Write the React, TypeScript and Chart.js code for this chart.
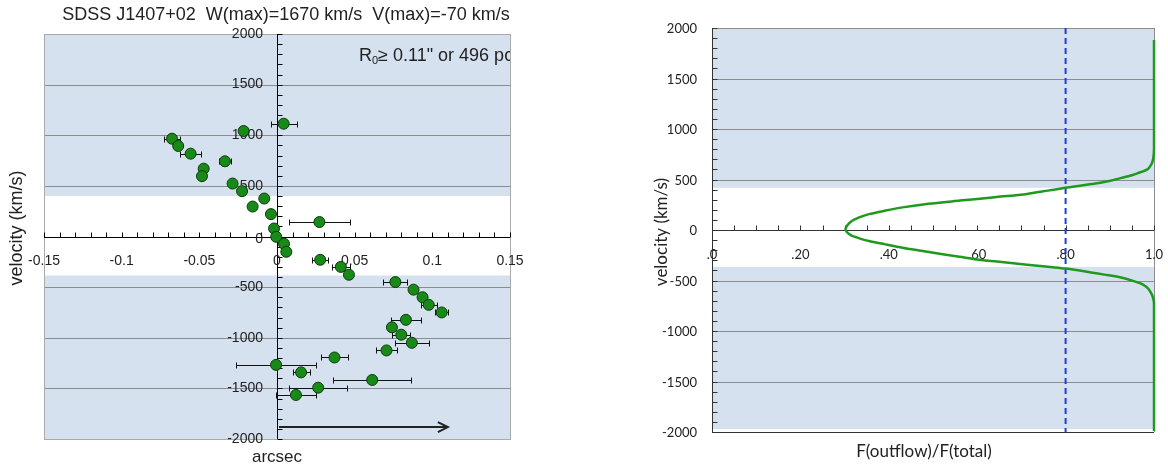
import React, { useEffect, useRef } from "react";
import { Chart, registerables } from "chart.js";

Chart.register(...registerables);

// ---------- Left panel: position–velocity of outflow channels ----------
const TITLE = "SDSS J1407+02  W(max)=1670 km/s  V(max)=-70 km/s";
const CHANNEL_VEL = [
  1114, 1042, 966, 894, 818, 743, 670, 596, 523, 448, 375, 296, 221, 143, 79, -3,
  -72, -151, -230, -300, -378, -450, -525, -600, -675, -750, -823, -897, -970,
  -1050, -1125, -1195, -1268, -1342, -1417, -1493, -1565,
];
const CHANNEL_OFFSET = [
  0.0043, -0.0215, -0.0676, -0.0636, -0.0556, -0.0335, -0.0472, -0.0483, -0.0286,
  -0.0225, -0.0082, -0.0157, -0.0039, 0.0273, -0.0019, -0.0005, 0.0045, 0.006,
  0.0278, 0.0411, 0.0463, 0.0762, 0.0879, 0.0937, 0.0977, 0.106, 0.083, 0.074,
  0.08, 0.0868, 0.0705, 0.037, -0.0006, 0.0155, 0.0613, 0.0265, 0.0122,
];
const CHANNEL_ERR = [
  0.0084, 0.002, 0.0052, 0.002, 0.0066, 0.0037, 0.002, 0.002, 0.002, 0.002, 0.002,
  0.002, 0.002, 0.0194, 0.002, 0.002, 0.002, 0.002, 0.0052, 0.006, 0.002, 0.0078,
  0.002, 0.002, 0.005, 0.0043, 0.0097, 0.002, 0.0057, 0.011, 0.007, 0.0086, 0.0255,
  0.0055, 0.025, 0.0187, 0.013,
];
const LEFT_X_TICKS = [-0.15, -0.1, -0.05, 0, 0.05, 0.1, 0.15];
const LEFT_X_LABELS = ["-0.15", "-0.1", "-0.05", "0", "0.05", "0.1", "0.15"];
const VEL_TICKS = [2000, 1500, 1000, 500, 0, -500, -1000, -1500, -2000];
const VEL_GRID = [1500, 1000, 500, -500, -1000, -1500];
const LEFT_BANDS = [
  [400, 2000],
  [-2000, -385],
];
const R0 = 0.11;
const ARROW_VEL = -1882;

// ---------- Right panel: cumulative flux fraction ----------
const FRAC_VEL = [
  1880, 1200, 800, 700, 650, 600, 550, 520, 491, 455, 418, 390, 357, 325, 291, 260,
  224, 190, 157, 125, 91, 60, 30, 5, -20, -40, -59, -85, -109, -140, -175, -210,
  -241, -265, -291, -315, -343, -365, -382, -410, -442, -475, -509, -540, -575,
  -620, -660, -720, -1200, -1990,
];
const FRAC = [
  1.0, 1.0, 1.0, 0.998, 0.994, 0.985, 0.955, 0.93, 0.904, 0.86, 0.8, 0.76, 0.713,
  0.64, 0.561, 0.49, 0.431, 0.39, 0.355, 0.333, 0.317, 0.309, 0.304, 0.302, 0.305,
  0.31, 0.317, 0.335, 0.355, 0.39, 0.431, 0.48, 0.522, 0.56, 0.598, 0.65, 0.713,
  0.76, 0.8, 0.845, 0.888, 0.93, 0.956, 0.975, 0.986, 0.993, 0.997, 1.0, 1.0, 1.0,
];
const THRESHOLD = 0.8;
const FRAC_TICKS = [0, 0.2, 0.4, 0.6, 0.8, 1.0];
const FRAC_LABELS = [".0", ".20", ".40", ".60", ".80", "1.0"];
const RIGHT_BANDS = [
  [418, 2000],
  [-1972, -365],
];

const BAND_FILL = "rgb(214,225,240)";
const GRID = "rgb(140,140,140)";
const ARIAL = '"Liberation Sans", Arial, sans-serif';
const LATO = "Lato, sans-serif";

const crisp = (v: number) => Math.round(v) + 0.5;

function hLine(ctx: CanvasRenderingContext2D, x1: number, x2: number, y: number) {
  ctx.beginPath();
  ctx.moveTo(x1, crisp(y));
  ctx.lineTo(x2, crisp(y));
  ctx.stroke();
}
function vLine(ctx: CanvasRenderingContext2D, x: number, y1: number, y2: number) {
  ctx.beginPath();
  ctx.moveTo(crisp(x), y1);
  ctx.lineTo(crisp(x), y2);
  ctx.stroke();
}

const leftDecor = {
  id: "leftDecor",
  beforeDatasetsDraw(chart: any) {
    const { ctx, chartArea: a } = chart;
    const xs = chart.scales.x;
    const ys = chart.scales.y;
    ctx.save();
    ctx.fillStyle = BAND_FILL;
    for (const [lo, hi] of LEFT_BANDS) {
      const t = ys.getPixelForValue(hi);
      const b = ys.getPixelForValue(lo);
      ctx.fillRect(a.left, t, a.right - a.left, b - t);
    }
    ctx.lineWidth = 1;
    ctx.strokeStyle = GRID;
    for (const v of VEL_GRID) hLine(ctx, a.left, a.right, ys.getPixelForValue(v));
    ctx.strokeStyle = "rgb(170,170,170)";
    ctx.strokeRect(crisp(a.left), crisp(a.top), Math.round(a.right - a.left), Math.round(a.bottom - a.top));

    const x0 = xs.getPixelForValue(0);
    const y0 = ys.getPixelForValue(0);
    ctx.strokeStyle = "#000";
    hLine(ctx, a.left, a.right, y0);
    vLine(ctx, x0, a.top, a.bottom);
    // minor ticks
    for (let i = -15; i <= 15; i++) {
      const px = crisp(xs.getPixelForValue(i / 100));
      ctx.beginPath();
      ctx.moveTo(px, crisp(y0));
      ctx.lineTo(px, crisp(y0) - 5);
      ctx.stroke();
    }
    for (let i = -20; i <= 20; i++) {
      const py = crisp(ys.getPixelForValue(i * 100));
      ctx.beginPath();
      ctx.moveTo(crisp(x0), py);
      ctx.lineTo(crisp(x0) + 5, py);
      ctx.stroke();
    }

    ctx.fillStyle = "#222";
    ctx.font = `14px ${ARIAL}`;
    ctx.textAlign = "right";
    ctx.textBaseline = "middle";
    for (const v of VEL_TICKS) ctx.fillText(String(v), x0 - 14, ys.getPixelForValue(v) + (v === 0 ? 3 : 0));
    ctx.textAlign = "center";
    LEFT_X_TICKS.forEach((v, i) => ctx.fillText(LEFT_X_LABELS[i], xs.getPixelForValue(v), y0 + 25));

    ctx.font = `18px ${ARIAL}`;
    ctx.fillText(TITLE, 286, 15);
    ctx.font = `17px ${ARIAL}`;
    ctx.fillText("arcsec", x0, 457);
    ctx.save();
    ctx.translate(17, 228);
    ctx.rotate(-Math.PI / 2);
    ctx.font = `18px ${ARIAL}`;
    ctx.fillText("velocity (km/s)", 0, 0);
    ctx.restore();

    // horizontal error bars
    ctx.strokeStyle = "#111";
    ctx.lineWidth = 1;
    CHANNEL_VEL.forEach((v, i) => {
      const py = crisp(ys.getPixelForValue(v));
      const l = Math.round(xs.getPixelForValue(CHANNEL_OFFSET[i] - CHANNEL_ERR[i])) + 0.5;
      const r = Math.round(xs.getPixelForValue(CHANNEL_OFFSET[i] + CHANNEL_ERR[i])) + 0.5;
      ctx.beginPath();
      ctx.moveTo(l, py);
      ctx.lineTo(r, py);
      ctx.moveTo(l, py - 3);
      ctx.lineTo(l, py + 3);
      ctx.moveTo(r, py - 3);
      ctx.lineTo(r, py + 3);
      ctx.stroke();
    });
    ctx.restore();
  },
  afterDatasetsDraw(chart: any) {
    const { ctx, chartArea: a } = chart;
    const xs = chart.scales.x;
    const ys = chart.scales.y;
    ctx.save();
    // arrow marking the outflow radius
    const ay = ys.getPixelForValue(ARROW_VEL);
    const ax1 = xs.getPixelForValue(0) + 2;
    const ax2 = xs.getPixelForValue(R0);
    ctx.strokeStyle = "#222";
    ctx.lineWidth = 2;
    ctx.beginPath();
    ctx.moveTo(ax1, ay);
    ctx.lineTo(ax2, ay);
    ctx.moveTo(ax2 - 10, ay - 5);
    ctx.lineTo(ax2, ay);
    ctx.lineTo(ax2 - 10, ay + 5);
    ctx.stroke();

    // radius annotation, clipped at the plot edge
    ctx.beginPath();
    ctx.rect(a.left, a.top, a.right - a.left, a.bottom - a.top);
    ctx.clip();
    ctx.fillStyle = "#222";
    ctx.textAlign = "left";
    ctx.textBaseline = "alphabetic";
    let tx = 359;
    const ty = 61;
    ctx.font = `18px ${ARIAL}`;
    ctx.fillText("R", tx, ty);
    tx += ctx.measureText("R").width;
    ctx.font = `11px ${ARIAL}`;
    ctx.fillText("0", tx, ty + 3);
    tx += ctx.measureText("0").width;
    ctx.font = `18px ${ARIAL}`;
    ctx.fillText(`≥ ${R0}" or 496 pc`, tx, ty);
    ctx.restore();
  },
};

const rightDecor = {
  id: "rightDecor",
  beforeDatasetsDraw(chart: any) {
    const { ctx, chartArea: a } = chart;
    const xs = chart.scales.x;
    const ys = chart.scales.y;
    ctx.save();
    ctx.fillStyle = BAND_FILL;
    for (const [lo, hi] of RIGHT_BANDS) {
      const t = ys.getPixelForValue(hi);
      const b = ys.getPixelForValue(lo);
      ctx.fillRect(a.left, t, a.right - a.left, b - t);
    }
    ctx.lineWidth = 1;
    ctx.strokeStyle = GRID;
    for (const v of VEL_GRID) hLine(ctx, a.left, a.right, ys.getPixelForValue(v));
    hLine(ctx, a.left, a.right, a.top);
    vLine(ctx, a.right, a.top, a.bottom);

    const y0 = ys.getPixelForValue(0);
    ctx.strokeStyle = "#333";
    hLine(ctx, a.left, a.right, y0);
    hLine(ctx, a.left, a.right, a.bottom);
    vLine(ctx, a.left, a.top, a.bottom);
    for (let i = 0; i <= 20; i++) {
      const px = crisp(xs.getPixelForValue(i * 0.05));
      ctx.beginPath();
      ctx.moveTo(px, crisp(y0));
      ctx.lineTo(px, crisp(y0) - 5);
      ctx.stroke();
    }
    for (let i = -20; i <= 20; i++) {
      const py = crisp(ys.getPixelForValue(i * 100));
      ctx.beginPath();
      ctx.moveTo(crisp(a.left), py);
      ctx.lineTo(crisp(a.left) + 5, py);
      ctx.stroke();
    }

    ctx.fillStyle = "#222";
    ctx.font = `13px ${LATO}`;
    ctx.textAlign = "right";
    ctx.textBaseline = "middle";
    for (const v of VEL_TICKS) ctx.fillText(String(v), a.left - 15, ys.getPixelForValue(v) + 1);
    ctx.textAlign = "center";
    FRAC_TICKS.forEach((v, i) => ctx.fillText(FRAC_LABELS[i], xs.getPixelForValue(v), y0 + 25));

    ctx.font = `17px ${LATO}`;
    ctx.fillText("F(outflow)/F(total)", xs.getPixelForValue(0.5) - 9, 452);
    ctx.save();
    ctx.translate(62, 232);
    ctx.rotate(-Math.PI / 2);
    ctx.fillText("velocity (km/s)", 0, 0);
    ctx.restore();
    ctx.restore();
  },
};

function LeftPanel() {
  const ref = useRef<HTMLCanvasElement>(null);
  useEffect(() => {
    const chart = new Chart(ref.current!, {
      type: "scatter",
      data: {
        datasets: [
          {
            data: CHANNEL_VEL.map((v, i) => ({ x: CHANNEL_OFFSET[i], y: v })),
            pointRadius: 5.5,
            pointBorderWidth: 1,
            backgroundColor: "#178a17",
            borderColor: "#0b3a0b",
          },
        ],
      },
      options: {
        responsive: false,
        animation: false,
        events: [],
        layout: { padding: { left: 44, right: 50, top: 34, bottom: 27 } },
        scales: {
          x: { type: "linear", min: -0.15, max: 0.15, display: false },
          y: { type: "linear", min: -2000, max: 2000, display: false },
        },
        plugins: { legend: { display: false }, tooltip: { enabled: false } },
      },
      plugins: [leftDecor],
    } as any);
    return () => chart.destroy();
  }, []);
  return <canvas ref={ref} width={560} height={466} style={{ position: "absolute", left: 0, top: 0 }} />;
}

function RightPanel() {
  const ref = useRef<HTMLCanvasElement>(null);
  useEffect(() => {
    const chart = new Chart(ref.current!, {
      type: "scatter",
      data: {
        datasets: [
          {
            data: FRAC.map((f, i) => ({ x: f, y: FRAC_VEL[i] })),
            showLine: true,
            borderColor: "#1f9a1f",
            borderWidth: 2.5,
            pointRadius: 0,
            tension: 0.25,
            clip: 2,
          },
          {
            data: [
              { x: THRESHOLD, y: 2000 },
              { x: THRESHOLD, y: -2000 },
            ],
            showLine: true,
            borderColor: "#1c3ce0",
            borderDash: [6, 4],
            borderWidth: 2,
            pointRadius: 0,
          },
        ],
      },
      options: {
        responsive: false,
        animation: false,
        events: [],
        layout: { padding: { left: 112, right: 14, top: 28, bottom: 34 } },
        scales: {
          x: { type: "linear", min: 0, max: 1, display: false },
          y: { type: "linear", min: -2000, max: 2000, display: false },
        },
        plugins: { legend: { display: false }, tooltip: { enabled: false } },
      },
      plugins: [rightDecor],
    } as any);
    return () => chart.destroy();
  }, []);
  return <canvas ref={ref} width={568} height={466} style={{ position: "absolute", left: 600, top: 0 }} />;
}

export default function App() {
  return (
    <div style={{ position: "fixed", left: 0, top: 0, width: 1168, height: 466, background: "#fff", overflow: "hidden" }}>
      <LeftPanel />
      <RightPanel />
    </div>
  );
}
